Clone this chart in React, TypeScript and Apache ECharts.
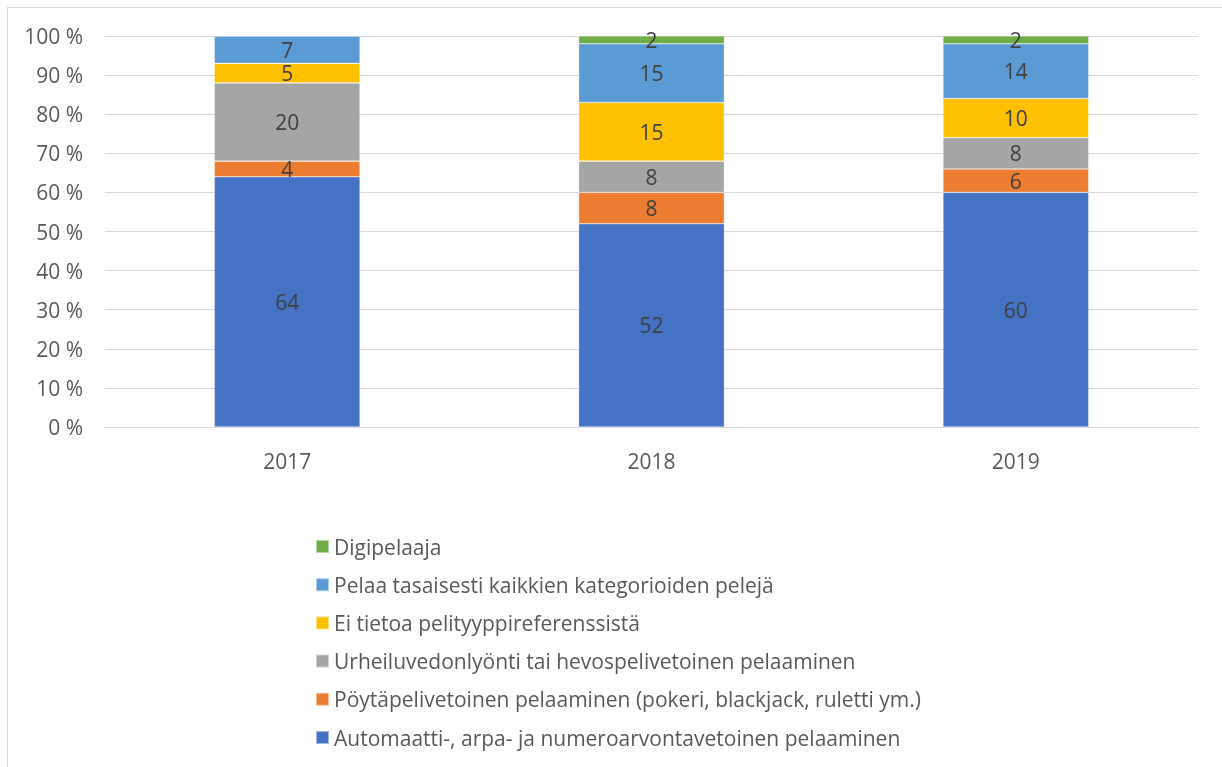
import React, { useEffect, useRef } from "react";
import * as echarts from "echarts";

const categories = ["2017", "2018", "2019"];
const seriesNames = [
  "Automaatti-, arpa- ja numeroarvontavetoinen pelaaminen",
  "Pöytäpelivetoinen pelaaminen (pokeri, blackjack, ruletti ym.)",
  "Urheiluvedonlyönti tai hevospelivetoinen pelaaminen",
  "Ei tietoa pelityyppireferenssistä",
  "Pelaa tasaisesti kaikkien kategorioiden pelejä",
  "Digipelaaja",
];
const automaatti = [64, 52, 60];
const poytapeli = [4, 8, 6];
const urheilu = [20, 8, 8];
const eiTietoa = [5, 15, 10];
const tasaisesti = [7, 15, 14];
const digi = [0, 2, 2];
const seriesValues = [automaatti, poytapeli, urheilu, eiTietoa, tasaisesti, digi];
const colors = ["#4472C4", "#ED7D31", "#A5A5A5", "#FFC000", "#5B9BD5", "#70AD47"];
const yTicks = [0, 10, 20, 30, 40, 50, 60, 70, 80, 90, 100];

const FONT = "'Open Sans', 'Noto Sans', sans-serif";
const FS = 21;

export default function App() {
  const ref = useRef<HTMLDivElement>(null);
  useEffect(() => {
    if (!ref.current) return;
    const chart = echarts.init(ref.current, undefined, { renderer: "svg" });
    chart.setOption({
      animation: false,
      textStyle: { fontFamily: FONT },
      grid: { left: 105, right: 24, top: 36, bottom: 340, containLabel: false },
      legend: {
        orient: "vertical",
        left: 310,
        top: 531,
        itemWidth: 13,
        itemHeight: 13,
        itemGap: 17.2,
        icon: "rect",
        data: [...seriesNames].reverse(),
        textStyle: { fontFamily: FONT, fontSize: FS, lineHeight: 20, color: "#595959" },
      },
      xAxis: {
        type: "category",
        data: categories,
        axisLine: { show: true, lineStyle: { color: "#d9d9d9", width: 1 } },
        axisTick: { show: false },
        axisLabel: { color: "#595959", fontSize: FS, lineHeight: 20, margin: 24, fontFamily: FONT },
      },
      yAxis: {
        type: "value",
        min: yTicks[0],
        max: yTicks[yTicks.length - 1],
        interval: 10,
        axisLine: { show: false },
        axisTick: { show: false },
        axisLabel: {
          color: "#595959",
          fontSize: FS,
          lineHeight: 20,
          margin: 22,
          fontFamily: FONT,
          formatter: (v: number) => `${v} %`,
        },
        splitLine: { lineStyle: { color: "#d9d9d9", width: 1 } },
      },
      series: seriesNames.map((name, i) => ({
        name,
        type: "bar",
        stack: "total",
        barWidth: "40%",
        data: seriesValues[i],
        itemStyle: { color: colors[i], borderColor: "rgba(255,255,255,0.5)", borderWidth: 0.6 },
        label: {
          show: true,
          position: "inside",
          color: "#404040",
          fontSize: FS,
          lineHeight: 13,
          fontFamily: FONT,
          formatter: (p: any) => (p.value ? String(p.value) : ""),
        },
      })),
    });
    return () => chart.dispose();
  }, []);
  return (
    <>
      <div
        style={{
          position: "fixed",
          left: 7,
          top: 7,
          width: 1400,
          height: 900,
          border: "1px solid #d9d9d9",
          boxSizing: "border-box",
        }}
      />
      <div ref={ref} style={{ position: "fixed", left: 0, top: 0, width: 1222, height: 767 }} />
    </>
  );
}
